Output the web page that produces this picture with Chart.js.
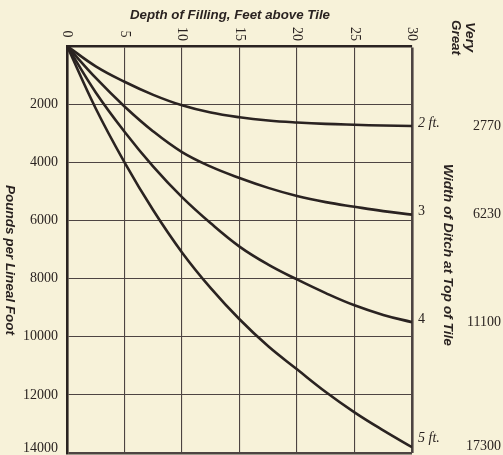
<!DOCTYPE html>
<html>
<head>
<meta charset="utf-8">
<script src="https://cdn.jsdelivr.net/npm/chart.js@4.4.1/dist/chart.umd.min.js"></script>
<style>
  html, body { margin: 0; padding: 0; background: #f7f2d9; }
</style>
</head>
<body>
<canvas id="loadChart" width="503" height="455"></canvas>
<script>
// depth of filling above the tile, feet
const depthFt = [0, 2.5, 5, 7.5, 10, 12.5, 15, 17.5, 20, 22.5, 25, 27.5, 30];
const depthTicks = [0, 5, 10, 15, 20, 25, 30];
const loadMax = 14000;

// load on the tile, pounds per lineal foot, one curve per ditch width
const load2ft = [0, 700, 1230, 1680, 2040, 2290, 2450, 2560, 2630, 2680, 2710, 2735, 2750];
const load3ft = [0, 1100, 2080, 2940, 3650, 4150, 4540, 4880, 5160, 5370, 5530, 5680, 5800];
const load4ft = [0, 1600, 2950, 4150, 5200, 6100, 6900, 7520, 8030, 8500, 8920, 9250, 9500];
const load5ft = [0, 2150, 4000, 5650, 7100, 8330, 9400, 10330, 11120, 11900, 12600, 13220, 13800];

const widthLabels = ['2 ft.', '3', '4', '5 ft.'];
const veryGreatLoads = ['2770', '6230', '11100', '17300'];

const ink = '#2a2321';
const gridInk = '#4d4442';
const serif = '"Liberation Serif", "DejaVu Serif", serif';
const sans = '"Liberation Sans", "DejaVu Sans", sans-serif';

const toPoints = arr => depthFt.map((d, i) => ({ x: d, y: arr[i] }));
const curve = arr => ({
  data: toPoints(arr),
  borderColor: ink,
  borderWidth: 2.6,
  pointRadius: 0,
  tension: 0.4,
  fill: false,
});

// draw text turned a quarter turn clockwise (reads top to bottom)
function downText(ctx, text, x, y, font, align, maxLen) {
  ctx.save();
  ctx.font = font;
  ctx.translate(x, y);
  ctx.rotate(Math.PI / 2);
  if (maxLen) {
    const w = ctx.measureText(text).width;
    ctx.scale(maxLen / w, 1);
  }
  ctx.textAlign = align;
  ctx.textBaseline = 'middle';
  ctx.fillText(text, 0, 0);
  ctx.restore();
}

const labelsPlugin = {
  id: 'labels',
  afterDraw(chart) {
    const { ctx, chartArea, scales: { x, y } } = chart;
    ctx.save();
    ctx.fillStyle = ink;

    // top title
    ctx.font = 'italic bold 13px ' + sans;
    const title = 'Depth of Filling, Feet above Tile';
    const tw = ctx.measureText(title).width;
    ctx.save();
    ctx.translate(230, 15);
    ctx.scale(200 / tw, 1);
    ctx.textAlign = 'center';
    ctx.textBaseline = 'middle';
    ctx.fillText(title, 0, 0);
    ctx.restore();

    // depth ticks, turned
    depthTicks.forEach(t => {
      downText(ctx, String(t), x.getPixelForValue(t), 34, '14px ' + serif, 'center');
    });

    // bottom load label, kept inside the picture
    ctx.font = '14px ' + serif;
    ctx.textAlign = 'right';
    ctx.textBaseline = 'middle';
    ctx.fillText(String(loadMax), chartArea.left - 9, Math.min(y.getPixelForValue(loadMax), chartArea.bottom - 5));

    // axis titles
    downText(ctx, 'Pounds per Lineal Foot', 10, 260, 'italic bold 13px ' + sans, 'center', 150);
    downText(ctx, 'Width of Ditch at Top of Tile', 448, 255, 'italic bold 13px ' + sans, 'center', 182);
    downText(ctx, 'Very', 470, 22, 'italic bold 13px ' + sans, 'left', 30);
    downText(ctx, 'Great', 456, 20, 'italic bold 13px ' + sans, 'left', 35);

    // curve end labels and limiting loads
    chart.data.datasets.forEach((ds, i) => {
      const last = ds.data[ds.data.length - 1].y;
      const py = y.getPixelForValue(last);
      const lab = widthLabels[i];
      ctx.font = (lab.indexOf('ft') >= 0 ? 'italic ' : '') + '14px ' + serif;
      ctx.textAlign = 'left';
      ctx.textBaseline = 'middle';
      ctx.fillText(lab, chartArea.right + 6, Math.min(py - 3, chartArea.bottom - 15));
      ctx.font = '14px ' + serif;
      ctx.textAlign = 'right';
      ctx.fillText(veryGreatLoads[i], 501, Math.min(py, chartArea.bottom - 7));
    });
    ctx.restore();
  },
};

new Chart(document.getElementById('loadChart'), {
  type: 'line',
  data: {
    datasets: [curve(load2ft), curve(load3ft), curve(load4ft), curve(load5ft)],
  },
  options: {
    responsive: false,
    devicePixelRatio: 1,
    animation: false,
    layout: { padding: { top: 46, right: 91, bottom: 2, left: 0 } },
    plugins: { legend: { display: false }, tooltip: { enabled: false } },
    scales: {
      x: {
        type: 'linear',
        position: 'top',
        min: 0,
        max: 30,
        ticks: { display: false, stepSize: 5 },
        grid: {
          color: gridInk,
          lineWidth: c => (c.tick && c.tick.value === 30 ? 2.6 : 1.1),
          drawTicks: false,
        },
        border: { color: ink, width: 2.6 },
        afterFit: s => { s.height = 0; s.paddingLeft = 0; s.paddingRight = 0; },
      },
      y: {
        type: 'linear',
        reverse: true,
        min: 0,
        max: loadMax,
        ticks: {
          stepSize: 2000,
          padding: 9,
          color: ink,
          font: { family: serif, size: 14 },
          callback: v => (v === 0 || v === loadMax ? '' : String(v)),
        },
        grid: {
          color: gridInk,
          lineWidth: c => (c.tick && c.tick.value === loadMax ? 2.6 : 1.1),
          drawTicks: false,
        },
        border: { color: ink, width: 2.6 },
        afterFit: s => { s.width = 67; s.paddingTop = 0; s.paddingBottom = 0; },
      },
    },
  },
  plugins: [labelsPlugin],
});
</script>
</body>
</html>
